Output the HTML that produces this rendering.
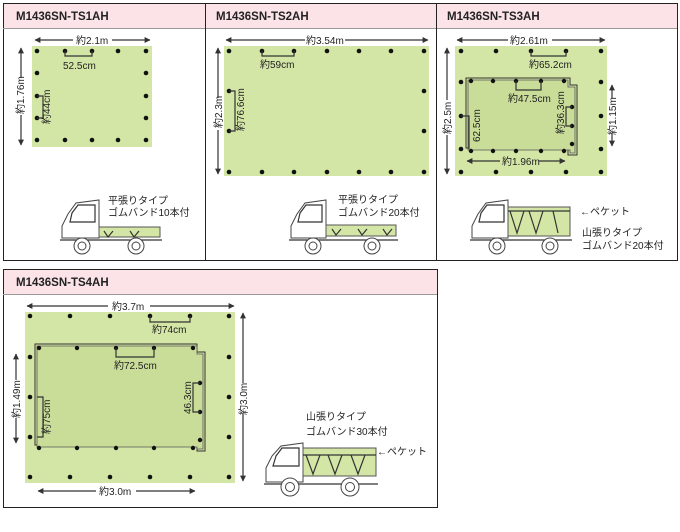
<!DOCTYPE html>
<html><head><meta charset="utf-8"><style>
body{margin:0;background:#fff}
svg{display:block}
text{font-family:"Liberation Sans","Noto Sans CJK JP",sans-serif;font-size:10px;fill:#222}
.h{font-weight:bold;font-size:11.5px;fill:#222}
.g{fill:#d4e6a6}
.d{fill:#111}
.l{stroke:#333;stroke-width:1.2;fill:none}
.t{stroke:#444;stroke-width:1;fill:#fff}
.b{fill:#d4e6a6;stroke:#555;stroke-width:1}
</style></head><body>
<svg width="680" height="532" viewBox="0 0 680 532">
<defs>
<marker id="a" viewBox="0 0 10 10" refX="9" refY="5" markerWidth="5" markerHeight="5" orient="auto-start-reverse"><path d="M0,0L10,5L0,10z" fill="#333"/></marker>
</defs>
<!-- panel frames -->
<rect x="3.5" y="3.5" width="674" height="257" fill="none" stroke="#222"/>
<rect x="4" y="4" width="673" height="24" fill="#fbe3e8"/>
<line x1="3" y1="28.5" x2="677" y2="28.5" stroke="#999"/>
<line x1="205.5" y1="3" x2="205.5" y2="260" stroke="#222"/>
<line x1="436.5" y1="3" x2="436.5" y2="260" stroke="#222"/>
<text class="h" x="16" y="20">M1436SN-TS1AH</text>
<text class="h" x="216" y="20">M1436SN-TS2AH</text>
<text class="h" x="447" y="20">M1436SN-TS3AH</text>

<rect x="3.5" y="269.5" width="434" height="238" fill="none" stroke="#222"/>
<rect x="4" y="270" width="433" height="24" fill="#fbe3e8"/>
<line x1="3" y1="294.5" x2="437" y2="294.5" stroke="#999"/>
<text class="h" x="16" y="286">M1436SN-TS4AH</text>

<!-- Panel 1 -->
<rect class="g" x="32" y="46" width="120" height="101"/>
<g class="d">
<circle cx="37" cy="51" r="2.3"/><circle cx="65" cy="51" r="2.3"/><circle cx="92" cy="51" r="2.3"/><circle cx="118" cy="51" r="2.3"/><circle cx="146" cy="51" r="2.3"/>
<circle cx="37" cy="73" r="2.3"/><circle cx="146" cy="73" r="2.3"/>
<circle cx="37" cy="96" r="2.3"/><circle cx="146" cy="96" r="2.3"/>
<circle cx="37" cy="118" r="2.3"/><circle cx="146" cy="118" r="2.3"/>
<circle cx="37" cy="140" r="2.3"/><circle cx="65" cy="140" r="2.3"/><circle cx="92" cy="140" r="2.3"/><circle cx="118" cy="140" r="2.3"/><circle cx="146" cy="140" r="2.3"/>
</g>
<line class="l" x1="35" y1="40" x2="73" y2="40" marker-start="url(#a)"/>
<line class="l" x1="112" y1="40" x2="150" y2="40" marker-end="url(#a)"/>
<text x="76" y="44">約2.1m</text>
<line class="l" x1="21" y1="48" x2="21" y2="78" marker-start="url(#a)"/>
<line class="l" x1="21" y1="115" x2="21" y2="145" marker-end="url(#a)"/>
<text transform="translate(24,114) rotate(-90)">約1.76m</text>
<path class="l" d="M65,51V56H92V51"/>
<text x="63" y="69">52.5cm</text>
<path class="l" d="M37,96H43V118H37"/>
<text transform="translate(50,124) rotate(-90)">約44cm</text>
<text x="108" y="204">平張りタイプ</text>
<text x="108" y="216">ゴムバンド10本付</text>
<!-- truck 1 -->
<path class="t" d="M62,238V226L68,214L76,203L99,200V238Z"/>
<path class="l" d="M72,213L78,205H95V222H70Z"/>
<rect class="b" x="99" y="227" width="61" height="10"/>
<path class="l" d="M60,240H162M104,231L108,237L113,231M130,231L134,237L139,231"/>
<circle class="t" cx="82" cy="246" r="8"/><circle class="t" cx="82" cy="246" r="4"/>
<circle class="t" cx="136" cy="246" r="8"/><circle class="t" cx="136" cy="246" r="4"/>

<!-- Panel 2 -->
<rect class="g" x="224" y="46" width="205" height="130"/>
<g class="d">
<circle cx="229" cy="51" r="2.3"/><circle cx="262" cy="51" r="2.3"/><circle cx="294" cy="51" r="2.3"/><circle cx="327" cy="51" r="2.3"/><circle cx="359" cy="51" r="2.3"/><circle cx="391" cy="51" r="2.3"/><circle cx="424" cy="51" r="2.3"/>
<circle cx="229" cy="91" r="2.3"/><circle cx="424" cy="91" r="2.3"/>
<circle cx="229" cy="131" r="2.3"/><circle cx="424" cy="131" r="2.3"/>
<circle cx="229" cy="172" r="2.3"/><circle cx="262" cy="172" r="2.3"/><circle cx="294" cy="172" r="2.3"/><circle cx="327" cy="172" r="2.3"/><circle cx="359" cy="172" r="2.3"/><circle cx="391" cy="172" r="2.3"/><circle cx="424" cy="172" r="2.3"/>
</g>
<line class="l" x1="226" y1="40" x2="305" y2="40" marker-start="url(#a)"/>
<line class="l" x1="345" y1="40" x2="428" y2="40" marker-end="url(#a)"/>
<text x="306" y="44">約3.54m</text>
<line class="l" x1="218" y1="48" x2="218" y2="98" marker-start="url(#a)"/>
<line class="l" x1="218" y1="130" x2="218" y2="174" marker-end="url(#a)"/>
<text transform="translate(222,128) rotate(-90)">約2.3m</text>
<path class="l" d="M262,51V56H294V51"/>
<text x="260" y="68">約59cm</text>
<path class="l" d="M229,91H235V131H229"/>
<text transform="translate(244,131) rotate(-90)">約76.6cm</text>
<text x="338" y="203">平張りタイプ</text>
<text x="338" y="216">ゴムバンド20本付</text>
<!-- truck 2 -->
<path class="t" d="M291,238V226L297,214L305,203L326,200V238Z"/>
<path class="l" d="M300,213L306,205H322V222H298Z"/>
<rect class="b" x="326" y="225" width="70" height="11"/>
<path class="l" d="M289,240H398M332,229L336,235L341,229M358,229L362,235L367,229M383,229L387,235L392,229"/>
<circle class="t" cx="313" cy="246" r="8"/><circle class="t" cx="313" cy="246" r="4"/>
<circle class="t" cx="372" cy="246" r="8"/><circle class="t" cx="372" cy="246" r="4"/>

<!-- Panel 3 -->
<rect class="g" x="455" y="46" width="152" height="130"/>
<path d="M466,78H570V85H577V155H568V148H466Z" fill="none" stroke="#333" stroke-width="1"/>
<path d="M468,80H568V87H575V153H570V150H468Z" fill="#c9dc98" stroke="#555" stroke-width="0.8"/>
<g class="d">
<circle cx="461" cy="51" r="2.3"/><circle cx="496" cy="51" r="2.3"/><circle cx="531" cy="51" r="2.3"/><circle cx="566" cy="51" r="2.3"/><circle cx="601" cy="51" r="2.3"/>
<circle cx="461" cy="82" r="2.3"/><circle cx="601" cy="82" r="2.3"/>
<circle cx="461" cy="116" r="2.3"/><circle cx="601" cy="116" r="2.3"/>
<circle cx="461" cy="149" r="2.3"/><circle cx="601" cy="149" r="2.3"/>
<circle cx="461" cy="172" r="2.3"/><circle cx="496" cy="172" r="2.3"/><circle cx="531" cy="172" r="2.3"/><circle cx="566" cy="172" r="2.3"/><circle cx="601" cy="172" r="2.3"/>
<circle cx="471" cy="81" r="2.2"/><circle cx="493" cy="81" r="2.2"/><circle cx="516" cy="81" r="2.2"/><circle cx="541" cy="81" r="2.2"/><circle cx="564" cy="81" r="2.2"/>
<circle cx="572" cy="107" r="2.2"/><circle cx="572" cy="126" r="2.2"/><circle cx="572" cy="144" r="2.2"/>
<circle cx="471" cy="151" r="2.2"/><circle cx="493" cy="151" r="2.2"/><circle cx="516" cy="151" r="2.2"/><circle cx="541" cy="151" r="2.2"/><circle cx="564" cy="151" r="2.2"/>
</g>
<line class="l" x1="457" y1="40" x2="508" y2="40" marker-start="url(#a)"/>
<line class="l" x1="552" y1="40" x2="605" y2="40" marker-end="url(#a)"/>
<text x="510" y="44">約2.61m</text>
<line class="l" x1="447" y1="48" x2="447" y2="100" marker-start="url(#a)"/>
<line class="l" x1="447" y1="135" x2="447" y2="174" marker-end="url(#a)"/>
<text transform="translate(451,134) rotate(-90)">約2.5m</text>
<path class="l" d="M531,51V56H566V51"/>
<text x="529" y="68">約65.2cm</text>
<path class="l" d="M516,81V90H541V81"/>
<text x="508" y="102">約47.5cm</text>
<path class="l" d="M461,116H469V149"/>
<text transform="translate(480,142) rotate(-90)">62.5cm</text>
<path class="l" d="M572,107H566V126H572"/>
<text transform="translate(564,134) rotate(-90)">約36.3cm</text>
<line class="l" x1="612" y1="85" x2="612" y2="98" marker-start="url(#a)"/>
<line class="l" x1="612" y1="133" x2="612" y2="146" marker-end="url(#a)"/>
<text transform="translate(616,135) rotate(-90)">約1.15m</text>
<line class="l" x1="467" y1="161" x2="500" y2="161" marker-start="url(#a)"/>
<line class="l" x1="539" y1="161" x2="565" y2="161" marker-end="url(#a)"/>
<text x="502" y="165">約1.96m</text>
<text x="580" y="215">←ペケット</text>
<text x="582" y="236">山張りタイプ</text>
<text x="582" y="249">ゴムバンド20本付</text>
<!-- truck 3 -->
<path class="t" d="M472,238V226L478,214L486,203L508,200V238Z"/>
<path class="l" d="M481,213L487,205H504V222H479Z"/>
<rect class="b" x="508" y="207" width="62" height="29"/>
<path class="l" d="M470,240H572M510,211L517,233L524,211M529,211L536,233L543,211M553,211L558,233M508,211H570"/>
<circle class="t" cx="497" cy="246" r="8"/><circle class="t" cx="497" cy="246" r="4"/>
<circle class="t" cx="550" cy="246" r="8"/><circle class="t" cx="550" cy="246" r="4"/>

<!-- Panel 4 -->
<rect class="g" x="25" y="312" width="210" height="171"/>
<path d="M35,344H197V352H205V451H197V445H35Z" fill="none" stroke="#333" stroke-width="1"/>
<path d="M37,346H197V354H203V449H197V447H37Z" fill="#c9dc98" stroke="#555" stroke-width="0.8"/>
<g class="d">
<circle cx="30" cy="316" r="2.3"/><circle cx="70" cy="316" r="2.3"/><circle cx="110" cy="316" r="2.3"/><circle cx="150" cy="316" r="2.3"/><circle cx="190" cy="316" r="2.3"/><circle cx="229" cy="316" r="2.3"/>
<circle cx="30" cy="357" r="2.3"/><circle cx="229" cy="357" r="2.3"/>
<circle cx="30" cy="397" r="2.3"/><circle cx="229" cy="397" r="2.3"/>
<circle cx="30" cy="437" r="2.3"/><circle cx="229" cy="437" r="2.3"/>
<circle cx="30" cy="477" r="2.3"/><circle cx="70" cy="477" r="2.3"/><circle cx="110" cy="477" r="2.3"/><circle cx="150" cy="477" r="2.3"/><circle cx="190" cy="477" r="2.3"/><circle cx="229" cy="477" r="2.3"/>
<circle cx="39" cy="348" r="2.2"/><circle cx="77" cy="348" r="2.2"/><circle cx="116" cy="348" r="2.2"/><circle cx="154" cy="348" r="2.2"/><circle cx="193" cy="348" r="2.2"/>
<circle cx="200" cy="383" r="2.2"/><circle cx="200" cy="412" r="2.2"/><circle cx="200" cy="440" r="2.2"/>
<circle cx="39" cy="448" r="2.2"/><circle cx="77" cy="448" r="2.2"/><circle cx="116" cy="448" r="2.2"/><circle cx="154" cy="448" r="2.2"/><circle cx="193" cy="448" r="2.2"/>
</g>
<line class="l" x1="27" y1="306" x2="108" y2="306" marker-start="url(#a)"/>
<line class="l" x1="150" y1="306" x2="234" y2="306" marker-end="url(#a)"/>
<text x="112" y="310">約3.7m</text>
<line class="l" x1="243" y1="313" x2="243" y2="383" marker-start="url(#a)"/>
<line class="l" x1="243" y1="414" x2="243" y2="481" marker-end="url(#a)"/>
<text transform="translate(247,415) rotate(-90)">約3.0m</text>
<path class="l" d="M150,316V322H190V316"/>
<text x="152" y="333">約74cm</text>
<path class="l" d="M116,348V357H154V348"/>
<text x="114" y="369">約72.5cm</text>
<line class="l" x1="16" y1="354" x2="16" y2="380" marker-start="url(#a)"/>
<line class="l" x1="16" y1="418" x2="16" y2="443" marker-end="url(#a)"/>
<text transform="translate(20,418) rotate(-90)">約1.49m</text>
<path class="l" d="M37,397H43V437H37"/>
<text transform="translate(50,434) rotate(-90)">約75cm</text>
<path class="l" d="M200,383H193V412H200"/>
<text transform="translate(191,414) rotate(-90)">46.3cm</text>
<line class="l" x1="38" y1="491" x2="96" y2="491" marker-start="url(#a)"/>
<line class="l" x1="136" y1="491" x2="195" y2="491" marker-end="url(#a)"/>
<text x="99" y="495">約3.0m</text>
<text x="306" y="420">山張りタイプ</text>
<text x="306" y="435">ゴムバンド30本付</text>
<text x="377" y="455">←ペケット</text>
<!-- truck 4 -->
<path class="t" d="M266,482V468L272,456L281,446L303,443V482Z"/>
<path class="l" d="M276,456L282,448H299V466H273Z"/>
<rect class="b" x="303" y="448" width="73" height="28"/>
<path class="l" d="M264,484H378M303,455H376M306,455L313,474L320,455M328,455L335,474L342,455M351,455L358,474L365,455"/>
<circle class="t" cx="290" cy="487" r="9"/><circle class="t" cx="290" cy="487" r="4.5"/>
<circle class="t" cx="350" cy="487" r="9"/><circle class="t" cx="350" cy="487" r="4.5"/>
</svg>
</body></html>
